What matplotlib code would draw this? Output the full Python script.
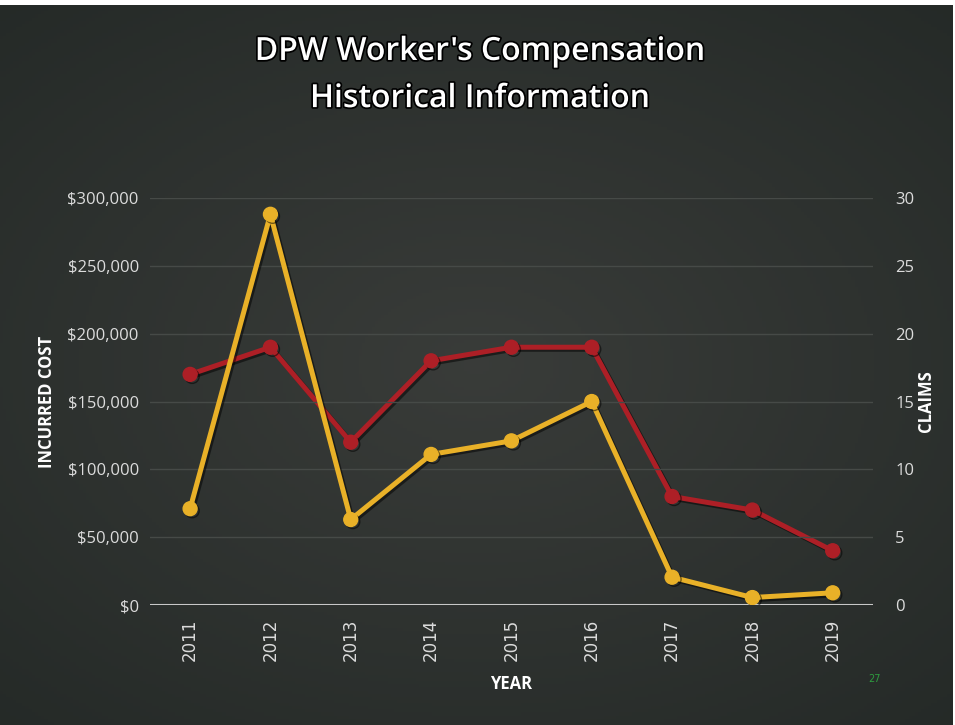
import matplotlib
matplotlib.use("Agg")
import matplotlib.pyplot as plt
import matplotlib.patheffects as pe
import numpy as np

years = ["2011", "2012", "2013", "2014", "2015", "2016", "2017", "2018", "2019"]
incurred_cost = [71000, 288000, 63000, 111000, 121000, 150000, 20500, 5500, 9000]
claims = [17, 19, 12, 18, 19, 19, 8, 7, 4]

cost_ticks = [0, 50000, 100000, 150000, 200000, 250000, 300000]
claim_ticks = [0, 5, 10, 15, 20, 25, 30]

yellow = "#e9b128"
red = "#ad1f26"
txt = "#dcdcdc"

fig = plt.figure(figsize=(9.55, 7.25), dpi=100, facecolor="white")

# dark background with a soft lighter centre
bg = fig.add_axes([0.0, 0.0, 0.997, 0.993])
gx, gy = np.meshgrid(np.linspace(-1, 1, 300), np.linspace(-1, 1, 230))
r = np.sqrt((gx * 0.9) ** 2 + (gy * 1.0) ** 2)
shade = np.clip(1 - r / 1.35, 0, 1)
c0 = np.array([0.145, 0.165, 0.155])
c1 = np.array([0.225, 0.235, 0.225])
img = c0 + (c1 - c0) * shade[..., None]
bg.imshow(img, aspect="auto", extent=[0, 1, 0, 1])
bg.set_axis_off()

ax = fig.add_axes([0.157, 0.1655, 0.757, 0.5614])
ax2 = ax.twinx()
ax.set_zorder(ax2.get_zorder() + 1)
ax.patch.set_visible(False)
ax2.patch.set_visible(False)

x = np.arange(len(years))
shadow = [pe.SimpleLineShadow(offset=(1.5, -1.5), shadow_color="black", alpha=0.5), pe.Normal()]

ax2.plot(x, claims, color=red, lw=3.6, marker="o", ms=10, path_effects=shadow)
ax.plot(x, incurred_cost, color=yellow, lw=3.6, marker="o", ms=10, path_effects=shadow)

ax.set_xlim(-0.5, len(years) - 0.5)
ax.set_ylim(0, 300000)
ax2.set_ylim(0, 30)
ax.set_yticks(cost_ticks)
ax.set_yticklabels(["$0" if v == 0 else "${:,}".format(v) for v in cost_ticks],
                   fontsize=12, color=txt, family="Open Sans")
ax2.set_yticks(claim_ticks)
ax2.set_yticklabels([str(v) for v in claim_ticks], fontsize=12, color=txt, family="Open Sans")
ax.set_xticks(x)
ax.set_xticklabels(years, rotation=90, fontsize=12, color=txt, family="DejaVu Sans")

for a in (ax, ax2):
    for s in a.spines.values():
        s.set_visible(False)
    a.tick_params(length=0)
ax.tick_params(axis="y", pad=8)
ax2.tick_params(axis="y", pad=16)
ax.tick_params(axis="x", pad=10)

ax.grid(axis="y", color="#464a47", lw=1)
ax.set_axisbelow(True)
ax.axhline(0, color="#c8c8c8", lw=1.5, zorder=1)

ax.set_ylabel("INCURRED COST", fontsize=12, color="white", fontweight="bold",
              family="Open Sans", labelpad=8)
ax2.set_ylabel("CLAIMS", fontsize=12, color="white", fontweight="bold",
               family="Open Sans", rotation=90, labelpad=2)
ax.set_xlabel("YEAR", fontsize=12, color="white", fontweight="bold",
              family="Open Sans", labelpad=10)

title_fx = [pe.withStroke(linewidth=2.5, foreground="black")]
fig.text(0.503, 0.929, "DPW Worker's Compensation", ha="center", va="center",
         fontsize=23, color="white", fontweight="semibold", family="Open Sans",
         path_effects=title_fx)
fig.text(0.503, 0.864, "Historical Information", ha="center", va="center",
         fontsize=23, color="white", fontweight="semibold", family="Open Sans",
         path_effects=title_fx)

fig.text(0.916, 0.064, "27", ha="center", va="center", fontsize=7, color="#2e9b3e")

fig.savefig("out.png", dpi=100, facecolor=fig.get_facecolor())
